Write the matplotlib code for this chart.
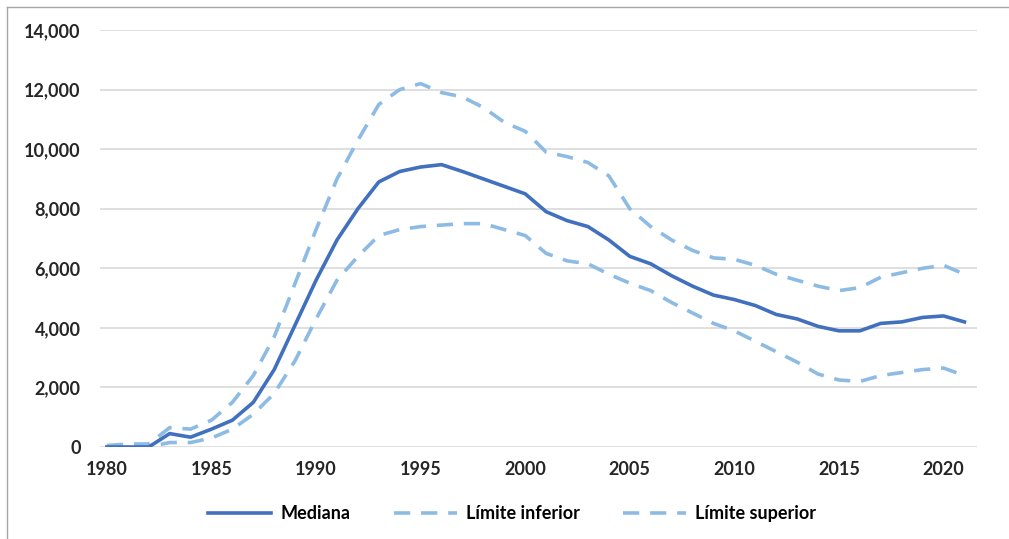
import matplotlib.pyplot as plt
from matplotlib.lines import Line2D
from matplotlib.ticker import FuncFormatter

# Years and series
years = list(range(1980, 2022))

mediana = [0, 0, 0, 450, 330, 600, 900, 1500, 2600, 4100,
           5600, 6950, 8000, 8900, 9250, 9400, 9480, 9250, 9000, 8750,
           8500, 7900, 7600, 7400, 6950, 6400, 6150, 5750, 5400, 5100,
           4950, 4750, 4450, 4300, 4050, 3900, 3900, 4150, 4200, 4350,
           4400, 4200]

limite_inferior = [50, 100, 100, 650, 600, 900, 1500, 2400, 3700, 5500,
                   7300, 9000, 10300, 11500, 12000, 12200, 11900, 11750, 11400, 10900,
                   10600, 9900, 9750, 9550, 9100, 8000, 7400, 6950, 6600, 6350,
                   6300, 6100, 5800, 5600, 5400, 5250, 5350, 5700, 5850, 6000,
                   6100, 5800]

limite_superior = [0, 0, 0, 150, 150, 300, 600, 1100, 1800, 2900,
                   4300, 5600, 6400, 7100, 7300, 7400, 7450, 7500, 7500, 7300,
                   7100, 6500, 6250, 6150, 5800, 5500, 5250, 4850, 4500, 4150,
                   3900, 3550, 3200, 2850, 2450, 2250, 2200, 2400, 2500, 2600,
                   2650, 2400]

dark_blue = "#4170BE"
light_blue = "#8DBBE3"

plt.rcParams['font.family'] = ['Lato', 'DejaVu Sans']
plt.rcParams['font.weight'] = 'bold'

fig = plt.figure(figsize=(10.09, 5.39), dpi=100)
ax = fig.add_axes([100 / 1009, 1 - 447 / 539, 877 / 1009, 417 / 539])

ax.plot(years, mediana, color=dark_blue, lw=2.6, label="Mediana", zorder=3)
ax.plot(years, limite_inferior, color=light_blue, lw=2.6, ls=(0, (4.5, 3)),
        label="Límite inferior", zorder=2)
ax.plot(years, limite_superior, color=light_blue, lw=2.6, ls=(0, (4.5, 3)),
        label="Límite superior", zorder=2)

ax.set_xlim(1979.67, 2021.6)
ax.set_ylim(0, 14000)
ax.set_yticks(range(0, 14001, 2000))
ax.set_xticks(range(1980, 2021, 5))
ax.yaxis.set_major_formatter(FuncFormatter(lambda v, p: f"{int(v):,}"))
ax.grid(axis='y', color='#D9D9D9', lw=1.2)
ax.set_axisbelow(True)
for s in ax.spines.values():
    s.set_visible(False)
ax.tick_params(length=0, labelsize=13, colors='#262626')
ax.tick_params(axis='y', pad=14)
ax.tick_params(axis='x', pad=10)

ax.legend(loc='upper center', bbox_to_anchor=(0.47, -0.1), ncol=3, frameon=False,
          fontsize=13, handlelength=3.5, columnspacing=2.4, handletextpad=0.5)

# partial frame around the picture (top and left edges only)
fig.add_artist(Line2D([7 / 1009, 1], [1 - 7 / 539, 1 - 7 / 539], color='#A6A6A6', lw=1))
fig.add_artist(Line2D([7 / 1009, 7 / 1009], [0, 1 - 7 / 539], color='#A6A6A6', lw=1))

fig.savefig("out.png", dpi=100)
